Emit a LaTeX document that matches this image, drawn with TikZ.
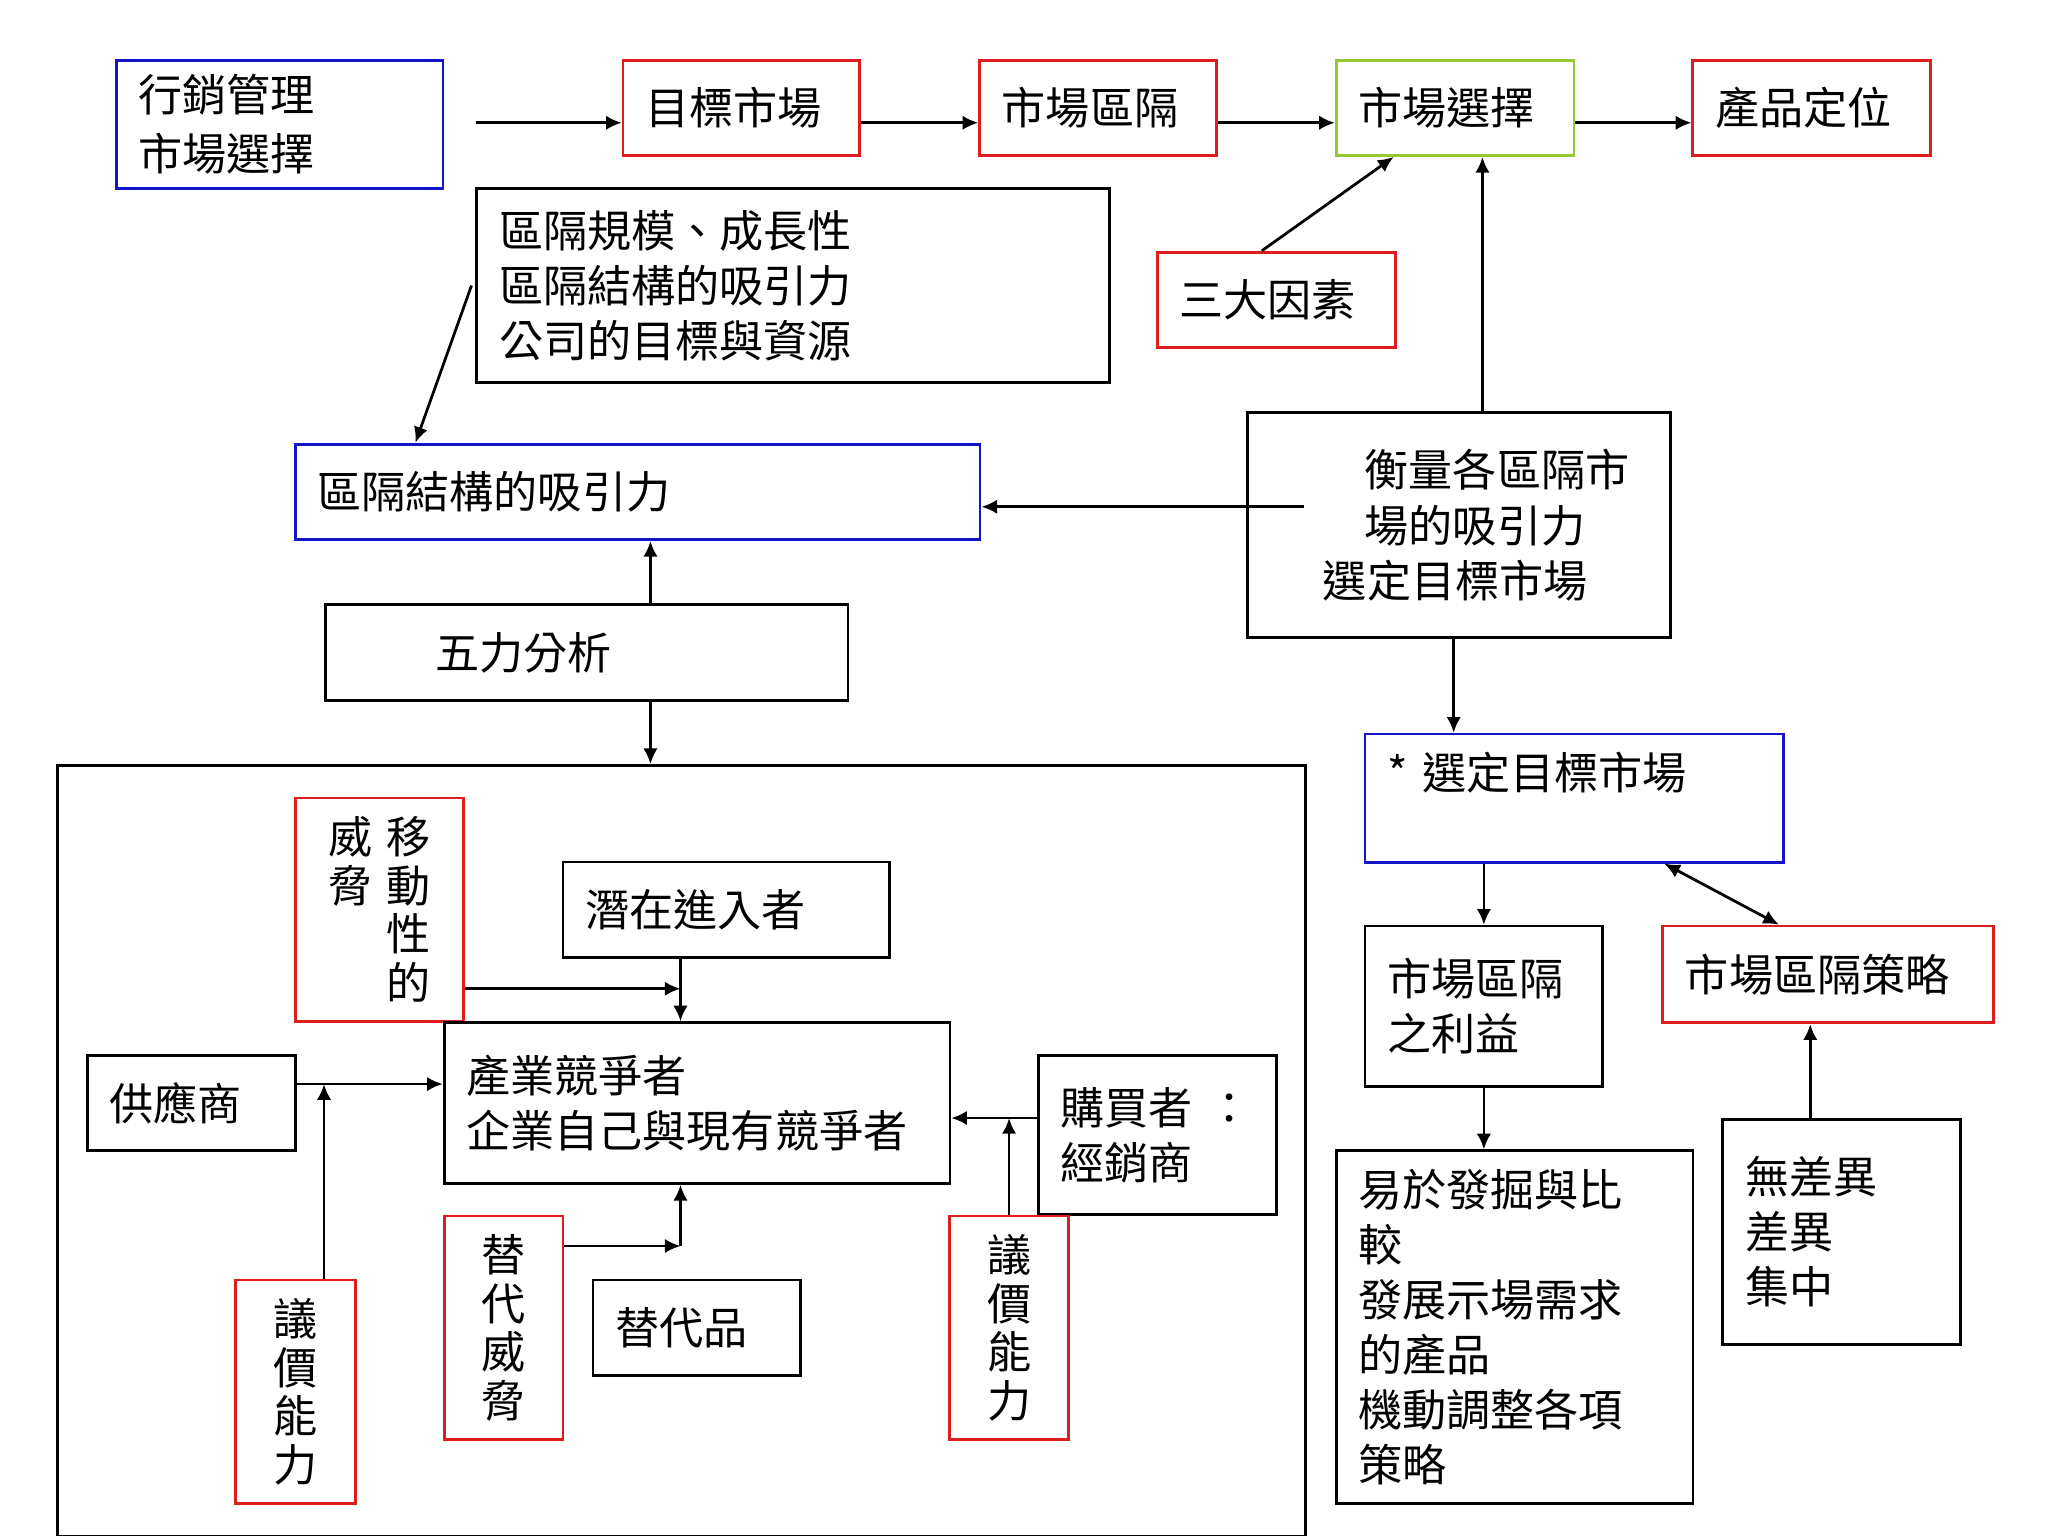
\documentclass[tikz,border=0pt]{standalone}
\usepackage{fontspec}
\setmainfont{Noto Sans CJK TC}
\usetikzlibrary{arrows.meta,positioning}

\begin{document}
\begin{tikzpicture}[
    x=0.01cm, y=-0.01cm,
    font=\fontsize{9.6}{12}\selectfont,
    box/.style={rectangle, draw=black, line width=0.6pt, anchor=north west,
                inner xsep=0.17cm, inner ysep=0.05cm, align=left},
    red box/.style={box, draw={rgb,255:red,220;green,30;blue,30}},
    blue box/.style={box, draw={rgb,255:red,20;green,20;blue,200}},
    green box/.style={box, draw={rgb,255:red,150;green,200;blue,50}},
    vert/.style={align=center, font=\fontsize{9.6}{10.6}\selectfont},
    arrow/.style={-{Latex[length=1.2mm,width=1.1mm]}, line width=0.6pt}
]
\useasboundingbox (0,0) rectangle (1568,1176);

% Top row
\node[blue box, minimum width=2.50cm, minimum height=0.98cm, text width=2.16cm,
      font=\fontsize{9.6}{13}\selectfont] (mgmt) at (88,45) {行銷管理\\市場選擇};
\node[red box, minimum width=1.81cm, minimum height=0.73cm, text width=1.47cm] (tgt) at (476,45) {目標市場};
\node[red box, minimum width=1.81cm, minimum height=0.73cm, text width=1.47cm] (seg) at (749,45) {市場區隔};
\node[green box, minimum width=1.82cm, minimum height=0.73cm, text width=1.48cm] (sel) at (1022,45) {市場選擇};
\node[red box, minimum width=1.82cm, minimum height=0.73cm, text width=1.48cm] (pos) at (1295,45) {產品定位};

\coordinate (row) at (0,94);
\draw[arrow] ([xshift=0.24cm]mgmt.east |- row) -- (tgt.west |- row);
\draw[arrow] (tgt.east |- row) -- (seg.west |- row);
\draw[arrow] (seg.east |- row) -- (sel.west |- row);
\draw[arrow] (sel.east |- row) -- (pos.west |- row);

% Criteria and factors
\node[box, minimum width=4.84cm, minimum height=1.49cm, text width=4.50cm] (crit) at (364,143)
    {區隔規模、成長性\\區隔結構的吸引力\\公司的目標與資源};
\node[red box, minimum width=1.82cm, minimum height=0.73cm, text width=1.48cm] (three) at (885,192) {三大因素};
\node[blue box, minimum width=5.24cm, minimum height=0.73cm, text width=4.90cm] (attr) at (225,339) {區隔結構的吸引力};
\node[box, minimum width=3.24cm, minimum height=1.72cm, inner xsep=0pt, align=left] (meas) at (954,315)
    {\hspace*{0.58cm}衡量各區隔市\\\hspace*{0.58cm}場的吸引力\\\hspace*{0.26cm}選定目標市場};
\node[box, minimum width=4.00cm, minimum height=0.73cm, inner xsep=0.84cm, text width=2.32cm] (five) at (248,462) {五力分析};

\draw[arrow] ([xshift=-0.03cm]crit.west) -- ([xshift=0.93cm]attr.north west);
\draw[arrow] ([xshift=-0.11cm]three.north) -- ([xshift=0.45cm]sel.south west);
\coordinate (c1135) at (1135,0);
\draw[arrow] (meas.north -| c1135) -- (sel.south -| c1135);
\coordinate (p388) at (998,388);
\draw[arrow] (p388) -- (attr.east |- p388);
\coordinate (c498) at (498,0);
\draw[arrow] (five.north -| c498) -- (attr.south -| c498);

% Five forces frame
\node[box, minimum width=9.55cm, minimum height=5.90cm] (frame) at (43,585) {};
\draw[arrow] (five.south -| c498) -- (frame.north -| c498);

\node[red box, vert, minimum width=1.29cm, minimum height=1.71cm, text width=0.95cm] (threat) at (225,610)
    {威~移\\脅~動\\\phantom{威}~性\\\phantom{威}~的};
\node[box, minimum width=2.50cm, minimum height=0.73cm, text width=2.16cm] (entr) at (430,659) {潛在進入者};
\node[box, minimum width=3.87cm, minimum height=1.23cm, text width=3.53cm] (comp) at (339,782)
    {產業競爭者\\企業自己與現有競爭者};
\node[box, minimum width=1.59cm, minimum height=0.73cm, text width=1.25cm] (supp) at (66,807) {供應商};
\node[red box, vert, minimum width=0.92cm, minimum height=1.71cm, text width=0.58cm] (barga) at (179,979) {議\\價\\能\\力};
\node[box, minimum width=1.82cm, minimum height=1.22cm, text width=1.48cm] (buyer) at (794,807) {購買者~：\\經銷商};
\node[red box, vert, minimum width=0.91cm, minimum height=1.71cm, text width=0.57cm] (bargb) at (726,930) {議\\價\\能\\力};
\node[red box, vert, minimum width=0.91cm, minimum height=1.71cm, text width=0.57cm] (subthr) at (339,930) {替\\代\\威\\脅};
\node[box, minimum width=1.59cm, minimum height=0.73cm, text width=1.25cm] (subst) at (453,979) {替代品};

\coordinate (c521) at (521,0);
\coordinate (r757) at (0,757);
\coordinate (r830) at (0,830);
\coordinate (r856) at (0,856);
\coordinate (r954) at (0,954);
\draw[arrow] (threat.east |- r757) -- (c521 |- r757);
\draw[arrow] (entr.south -| c521) -- (comp.north -| c521);
\draw[arrow] (supp.east |- r830) -- (comp.west |- r830);
\draw[arrow] ([xshift=0.22cm]barga.north) -- ([xshift=0.22cm]barga.north |- r830);
\draw[arrow] (buyer.west |- r856) -- (comp.east |- r856);
\draw[arrow] (bargb.north) -- (bargb.north |- r856);
\draw[arrow] (subthr.east |- r954) -- (c521 |- r954);
\draw[arrow] (c521 |- r954) -- (comp.south -| c521);

% Right column
\node[blue box, minimum width=3.20cm, minimum height=0.98cm, text width=2.86cm] (tsel) at (1044,561) {* 選定目標市場\\~};
\node[box, minimum width=1.82cm, minimum height=1.23cm, text width=1.48cm] (ben) at (1044,708) {市場區隔\\之利益};
\node[red box, minimum width=2.53cm, minimum height=0.74cm, text width=2.19cm] (strat) at (1272,708) {市場區隔策略};
\node[box, minimum width=2.73cm, minimum height=2.70cm, text width=2.39cm] (easy) at (1022,880)
    {易於發掘與比\\較\\發展示場需求\\的產品\\機動調整各項\\策略};
\node[box, minimum width=1.82cm, minimum height=1.72cm, text width=1.48cm] (undiff) at (1318,856) {無差異\\差異\\集中};

\coordinate (c1113) at (1113,0);
\coordinate (c1386) at (1386,0);
\draw[arrow] (meas.south -| c1113) -- (tsel.north -| c1113);
\draw[arrow] (tsel.south -| ben.north) -- (ben.north);
\draw[{Latex[length=1.2mm,width=1.1mm]}-{Latex[length=1.2mm,width=1.1mm]}, line width=0.6pt]
    ([xshift=-0.92cm]tsel.south east) -- ([xshift=0.90cm]strat.north west);
\draw[arrow] (ben.south) -- (easy.north -| ben.south);
\draw[arrow] (undiff.north -| c1386) -- (strat.south -| c1386);

\end{tikzpicture}
\end{document}
